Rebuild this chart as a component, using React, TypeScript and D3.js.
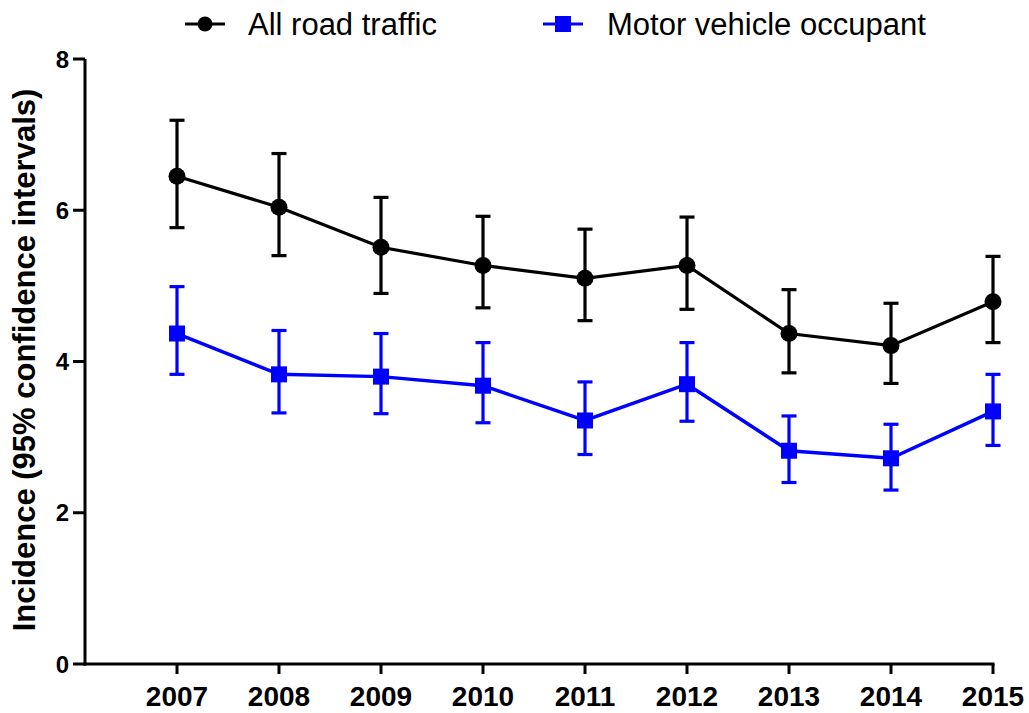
import React from "react";
import * as d3 from "d3";

const years = [2007, 2008, 2009, 2010, 2011, 2012, 2013, 2014, 2015];
const allRoad = [6.45, 6.04, 5.51, 5.27, 5.10, 5.27, 4.37, 4.21, 4.79];
const allRoadLow = [5.77, 5.40, 4.90, 4.71, 4.54, 4.69, 3.85, 3.71, 4.25];
const allRoadHigh = [7.19, 6.75, 6.17, 5.92, 5.75, 5.91, 4.95, 4.77, 5.39];
const motor = [4.37, 3.83, 3.80, 3.68, 3.22, 3.70, 2.82, 2.72, 3.34];
const motorLow = [3.83, 3.32, 3.31, 3.19, 2.77, 3.21, 2.40, 2.30, 2.89];
const motorHigh = [4.99, 4.41, 4.37, 4.25, 3.73, 4.25, 3.28, 3.17, 3.83];
const yTicks = [0, 2, 4, 6, 8];
const seriesNames = ["All road traffic", "Motor vehicle occupant"];

const W = 1029;
const H = 713;
const FONT = "'Liberation Sans', Arial, Helvetica, sans-serif";

export default function App() {
  const x = d3.scaleLinear().domain([2007, 2015]).range([177, 993]);
  const y = d3.scaleLinear().domain([0, 8]).range([664, 59]);
  const axisLeft = 85;
  const line = d3
    .line<[number, number]>()
    .x((d) => x(d[0]))
    .y((d) => y(d[1]));

  const series = [
    { name: seriesNames[0], vals: allRoad, lo: allRoadLow, hi: allRoadHigh, color: "#000000", shape: "circle", lw: 3.2 },
    { name: seriesNames[1], vals: motor, lo: motorLow, hi: motorHigh, color: "#0000FF", shape: "square", lw: 3.5 },
  ];

  const capW = 7.5;
  const legend = [
    { x0: 185, tx: 248, ...series[0] },
    { x0: 543, tx: 607, ...series[1] },
  ];

  return (
    <svg
      width={W}
      height={H}
      style={{ position: "absolute", left: 0, top: 0, background: "#fff" }}
      fontFamily={FONT}
    >
      <rect x={0} y={0} width={W} height={H} fill="#fff" />
      {/* axes */}
      <line x1={axisLeft} x2={axisLeft} y1={y(8)} y2={y(0) + 1.5} stroke="#000" strokeWidth={3} />
      <line x1={axisLeft - 1.5} x2={x(2015) + 1.5} y1={y(0)} y2={y(0)} stroke="#000" strokeWidth={3} />
      {yTicks.map((t) => (
        <g key={t}>
          <line x1={axisLeft - 12} x2={axisLeft} y1={y(t)} y2={y(t)} stroke="#000" strokeWidth={3} />
          <text x={axisLeft - 16} y={y(t)} dy="0.36em" textAnchor="end" fontSize={24} fontWeight="bold">
            {t}
          </text>
        </g>
      ))}
      {years.map((yr) => (
        <g key={yr}>
          <line x1={x(yr)} x2={x(yr)} y1={y(0)} y2={y(0) + 10} stroke="#000" strokeWidth={3} />
          <text x={x(yr)} y={706} textAnchor="middle" fontSize={28} fontWeight="bold">
            {yr}
          </text>
        </g>
      ))}
      <text
        transform={`translate(35,360) rotate(-90)`}
        textAnchor="middle"
        fontSize={31}
        fontWeight="bold"
      >
        Incidence (95% confidence intervals)
      </text>

      {series.map((s) => (
        <g key={s.name}>
          {years.map((yr, i) => (
            <g key={yr} stroke={s.color} strokeWidth={3.2}>
              <line x1={x(yr)} x2={x(yr)} y1={y(s.lo[i])} y2={y(s.hi[i])} />
              <line x1={x(yr) - capW} x2={x(yr) + capW} y1={y(s.lo[i])} y2={y(s.lo[i])} />
              <line x1={x(yr) - capW} x2={x(yr) + capW} y1={y(s.hi[i])} y2={y(s.hi[i])} />
            </g>
          ))}
          <path
            d={line(years.map((yr, i) => [yr, s.vals[i]] as [number, number])) || ""}
            fill="none"
            stroke={s.color}
            strokeWidth={s.lw}
          />
          {years.map((yr, i) =>
            s.shape === "circle" ? (
              <circle key={yr} cx={x(yr)} cy={y(s.vals[i])} r={8.5} fill={s.color} />
            ) : (
              <rect key={yr} x={x(yr) - 8} y={y(s.vals[i]) - 8} width={16} height={16} fill={s.color} />
            )
          )}
        </g>
      ))}

      {/* legend */}
      {legend.map((l) => (
        <g key={l.name}>
          <line x1={l.x0} x2={l.x0 + 40} y1={24} y2={24} stroke={l.color} strokeWidth={3} />
          {l.shape === "circle" ? (
            <circle cx={l.x0 + 20} cy={24} r={7.5} fill={l.color} />
          ) : (
            <rect x={l.x0 + 12} y={16} width={16} height={16} fill={l.color} />
          )}
          <text x={l.tx} y={35} fontSize={31} fill="#000">
            {l.name}
          </text>
        </g>
      ))}
    </svg>
  );
}
